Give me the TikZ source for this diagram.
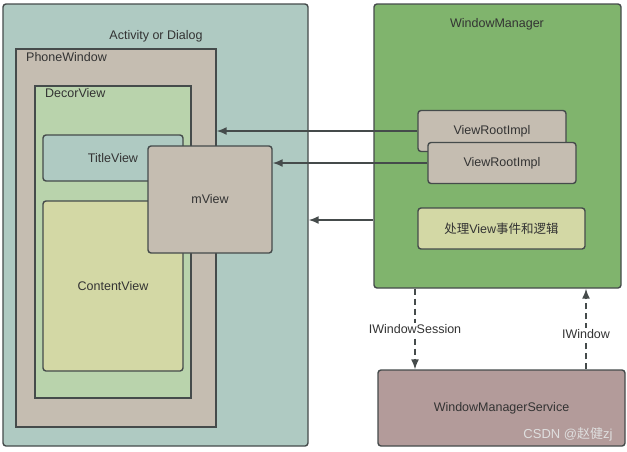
\documentclass[tikz,border=0pt]{standalone}
\usepackage{fontspec}
\setmainfont{Liberation Sans}
\newfontfamily\cjk{Noto Sans CJK SC}
\usepackage{tikz}
\usetikzlibrary{positioning,arrows.meta}

\definecolor{tealbg}{HTML}{AFCAC2}
\definecolor{taupe}{HTML}{C5BDB1}
\definecolor{sage}{HTML}{B9D3AC}
\definecolor{khaki}{HTML}{D3D8A5}
\definecolor{leaf}{HTML}{80B46D}
\definecolor{rosewood}{HTML}{B39B9A}
\definecolor{edge}{HTML}{454B4B}
\definecolor{ink}{HTML}{333333}

\begin{document}
\begin{tikzpicture}[
    x=1pt, y=-1pt,
    font=\fontsize{12.5}{14}\selectfont, text=ink,
    box/.style={rectangle, draw=edge, line width=1.4pt, inner sep=0pt},
    roundbox/.style={box, rounded corners=3pt},
    lbl/.style={inner sep=1pt},
    arrow/.style={-{Latex[length=10pt,width=8pt]}, line width=1.5pt, draw=edge},
    dasharrow/.style={arrow, dash pattern=on 6pt off 4pt}
]
\useasboundingbox (0,0) rectangle (627,451);

% Containers
\node[roundbox, fill=tealbg, minimum width=305pt, minimum height=442pt] (activity) at (155.5,225) {};
\node[lbl] (activitytext) at (156,36) {Activity or Dialog};
\node[box, fill=taupe, minimum width=200pt, minimum height=378pt] (phone) at (116,238) {};
\node[lbl, anchor=west] (phonetext) at (25,57) {PhoneWindow};
\node[box, fill=sage, minimum width=156pt, minimum height=312pt] (decor) at (113,242) {};
\node[lbl, anchor=west] (decortext) at (44,93) {DecorView};

% Views
\node[roundbox, fill=tealbg, minimum width=140pt, minimum height=46pt] (title) at (113,158) {TitleView};
\node[roundbox, fill=khaki, minimum width=140pt, minimum height=170pt] (content) at (113,286) {ContentView};
\node[roundbox, fill=taupe, minimum width=124pt, minimum height=107pt] (mview) at (210,199.5) {mView};

% Window manager side
\node[roundbox, fill=leaf, minimum width=247pt, minimum height=284pt] (wm) at (497.5,146) {};
\node[lbl] (wmtext) at (497,24) {WindowManager};
\node[roundbox, fill=taupe, minimum width=148pt, minimum height=41pt] (vri1) at (492,131) {ViewRootImpl};
\node[roundbox, fill=taupe, minimum width=148pt, minimum height=41pt] (vri2) at (502,163) {ViewRootImpl};
\node[roundbox, fill=khaki, minimum width=167pt, minimum height=41pt] (logic) at (501.5,228.5) {{\cjk 处理}View{\cjk 事件和逻辑}};
\node[roundbox, fill=rosewood, minimum width=247pt, minimum height=76pt] (wms) at (501.5,408) {WindowManagerService};
\node[lbl, text=white!75!gray, font=\fontsize{13}{15}\selectfont] (mark) at (568,434) {CSDN @{\cjk 赵健}zj};

% Arrows
\draw[arrow] (vri1.west) -- (vri1.west -| phone.east);
\draw[arrow] (vri2.west) -- (vri2.west -| mview.east);
\draw[arrow] (wm.west |- 0,220) -- (activity.east |- 0,220);
\draw[dasharrow] (wm.south -| 415,0) -- node[fill=white, lbl] {IWindowSession} (wms.north -| 415,0);
\draw[dasharrow] (wms.north -| 586,0) -- node[pos=0.44, fill=white, lbl] {IWindow} (wm.south -| 586,0);

\end{tikzpicture}
\end{document}
